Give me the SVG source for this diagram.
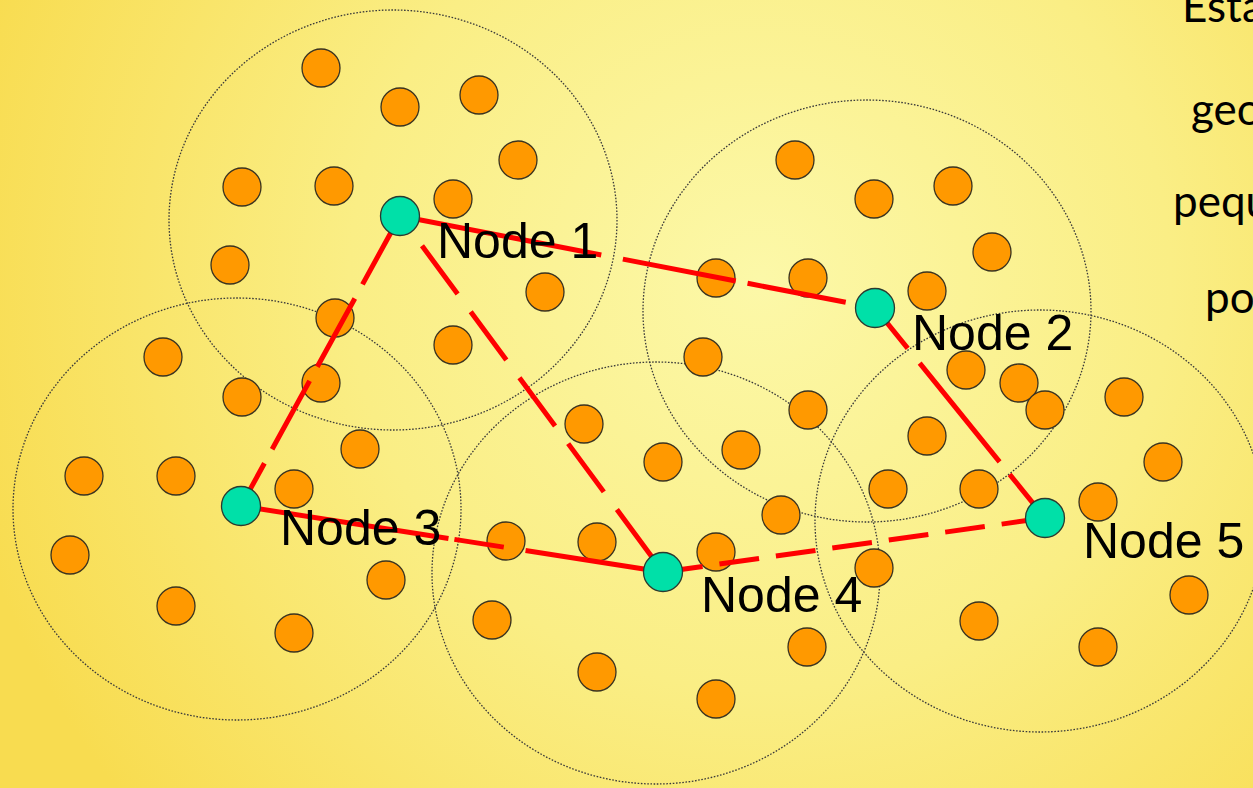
<svg xmlns="http://www.w3.org/2000/svg" width="1253" height="788" viewBox="0 0 1253 788">
<defs>
<radialGradient id="bg" gradientUnits="userSpaceOnUse" cx="760" cy="280" r="820">
<stop offset="0" stop-color="#FCF8A8"/>
<stop offset="0.5" stop-color="#FAEE85"/>
<stop offset="1" stop-color="#F8DC50"/>
</radialGradient>
<style>
.range{fill:none;stroke:#3a3a3a;stroke-width:1.3;stroke-dasharray:1.6 1.6}
.dot{fill:#FF9900;stroke:#3a3320;stroke-width:1.3}
.node{fill:#00E0A8;stroke:#2a3a30;stroke-width:1.3}
.link{stroke:#FF0000;stroke-width:5;fill:none;stroke-dasharray:60 18}
.lbl{font-family:"Liberation Sans",Arial,sans-serif;font-size:50px;fill:#000}
.side{font-family:Lato,"Liberation Sans",sans-serif;font-size:44px;fill:#000}
</style>
</defs>
<rect x="0" y="0" width="1253" height="788" fill="url(#bg)"/>
<g id="ranges">
<ellipse class="range" cx="393" cy="220" rx="224" ry="210"/>
<ellipse class="range" cx="867" cy="311" rx="224" ry="211"/>
<ellipse class="range" cx="237" cy="509" rx="224" ry="211"/>
<ellipse class="range" cx="656" cy="573" rx="224" ry="211"/>
<ellipse class="range" cx="1040" cy="521" rx="225" ry="211"/>
</g>
<g id="sensors">
<circle class="dot" cx="321" cy="68" r="19"/>
<circle class="dot" cx="400" cy="107" r="19"/>
<circle class="dot" cx="479" cy="95" r="19"/>
<circle class="dot" cx="518" cy="160" r="19"/>
<circle class="dot" cx="242" cy="187" r="19"/>
<circle class="dot" cx="334" cy="186" r="19"/>
<circle class="dot" cx="453" cy="199" r="19"/>
<circle class="dot" cx="230" cy="265" r="19"/>
<circle class="dot" cx="545" cy="292" r="19"/>
<circle class="dot" cx="335" cy="318" r="19"/>
<circle class="dot" cx="453" cy="345" r="19"/>
<circle class="dot" cx="163" cy="357" r="19"/>
<circle class="dot" cx="242" cy="397" r="19"/>
<circle class="dot" cx="321" cy="383" r="19"/>
<circle class="dot" cx="360" cy="449" r="19"/>
<circle class="dot" cx="84" cy="476" r="19"/>
<circle class="dot" cx="176" cy="476" r="19"/>
<circle class="dot" cx="294" cy="489" r="19"/>
<circle class="dot" cx="70" cy="555" r="19"/>
<circle class="dot" cx="386" cy="580" r="19"/>
<circle class="dot" cx="176" cy="606" r="19"/>
<circle class="dot" cx="294" cy="633" r="19"/>
<circle class="dot" cx="506" cy="541" r="19"/>
<circle class="dot" cx="597" cy="542" r="19"/>
<circle class="dot" cx="584" cy="424" r="19"/>
<circle class="dot" cx="663" cy="462" r="19"/>
<circle class="dot" cx="741" cy="450" r="19"/>
<circle class="dot" cx="492" cy="620" r="19"/>
<circle class="dot" cx="597" cy="672" r="19"/>
<circle class="dot" cx="716" cy="699" r="19"/>
<circle class="dot" cx="807" cy="647" r="19"/>
<circle class="dot" cx="716" cy="552" r="19"/>
<circle class="dot" cx="781" cy="515" r="19"/>
<circle class="dot" cx="874" cy="568" r="19"/>
<circle class="dot" cx="795" cy="160" r="19"/>
<circle class="dot" cx="874" cy="199" r="19"/>
<circle class="dot" cx="953" cy="186" r="19"/>
<circle class="dot" cx="992" cy="252" r="19"/>
<circle class="dot" cx="716" cy="278" r="19"/>
<circle class="dot" cx="808" cy="278" r="19"/>
<circle class="dot" cx="927" cy="291" r="19"/>
<circle class="dot" cx="703" cy="357" r="19"/>
<circle class="dot" cx="808" cy="410" r="19"/>
<circle class="dot" cx="966" cy="370" r="19"/>
<circle class="dot" cx="1019" cy="383" r="19"/>
<circle class="dot" cx="1045" cy="410" r="19"/>
<circle class="dot" cx="1124" cy="397" r="19"/>
<circle class="dot" cx="927" cy="436" r="19"/>
<circle class="dot" cx="888" cy="489" r="19"/>
<circle class="dot" cx="979" cy="489" r="19"/>
<circle class="dot" cx="1163" cy="462" r="19"/>
<circle class="dot" cx="1098" cy="502" r="19"/>
<circle class="dot" cx="1189" cy="595" r="19"/>
<circle class="dot" cx="979" cy="621" r="19"/>
<circle class="dot" cx="1098" cy="647" r="19"/>
</g>
<g id="connectors">
<line class="link" x1="400" y1="216" x2="875" y2="308" style="stroke-dasharray:205 22 115 12 100 22"/>
<line class="link" x1="400" y1="216" x2="241" y2="506" style="stroke-dasharray:78 16"/>
<line class="link" x1="400" y1="216" x2="663" y2="572" style="stroke-dasharray:60 22;stroke-dashoffset:45"/>
<line class="link" x1="875" y1="308" x2="1045" y2="518" style="stroke-dasharray:52 19 127 16 100"/>
<line class="link" x1="241" y1="506" x2="663" y2="572" style="stroke-dasharray:210 6 50 22 200"/>
<line class="link" x1="663" y1="572" x2="1045" y2="518" style="stroke-dasharray:40 17"/>
</g>
<g id="node1"><circle class="node" cx="400" cy="216" r="19.5"/><text class="lbl" x="437" y="258">Node 1</text></g>
<g id="node2"><circle class="node" cx="875" cy="308" r="19.5"/><text class="lbl" x="912" y="350">Node 2</text></g>
<g id="node3"><circle class="node" cx="241" cy="506" r="19.5"/><text class="lbl" x="280" y="545">Node 3</text></g>
<g id="node4"><circle class="node" cx="663" cy="572" r="19.5"/><text class="lbl" x="701" y="612">Node 4</text></g>
<g id="node5"><circle class="node" cx="1045" cy="518" r="19.5"/><text class="lbl" x="1083" y="558">Node 5</text></g>
<g id="sidetext">
<text class="side" x="1182" y="22">Esta</text>
<text class="side" x="1191" y="125">geo</text>
<text class="side" x="1173" y="217">pequ</text>
<text class="side" x="1205" y="313">po</text>
</g>
</svg>
